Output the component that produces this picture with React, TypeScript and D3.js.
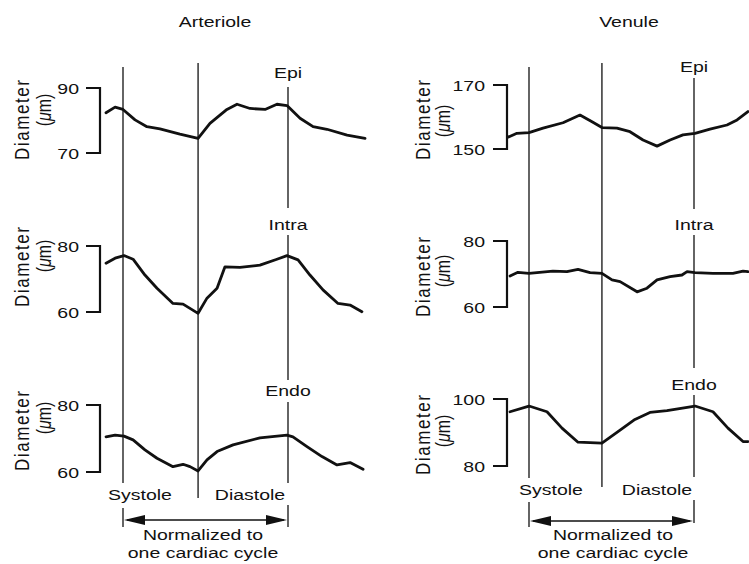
import React from 'react';
import * as d3 from 'd3';

// ---- Data (time normalized to one cardiac cycle: 0 = start of systole, 1 = end of diastole) ----
const ART_EPI_T = [-0.103, -0.048, 0, 0.073, 0.145, 0.224, 0.345, 0.455, 0.527, 0.63, 0.691, 0.77, 0.861, 0.933, 0.994, 1.073, 1.152, 1.236, 1.358, 1.467];
const ART_EPI_D = [82.4, 84.1, 83.4, 80.2, 78.1, 77.4, 75.8, 74.5, 79.1, 83.4, 85.0, 83.7, 83.4, 85.0, 84.6, 80.7, 78.1, 77.3, 75.5, 74.5];

const ART_INTRA_T = [-0.103, -0.048, 0.006, 0.061, 0.133, 0.206, 0.303, 0.364, 0.455, 0.509, 0.57, 0.618, 0.709, 0.83, 0.933, 0.994, 1.061, 1.133, 1.212, 1.303, 1.376, 1.448];
const ART_INTRA_D = [74.8, 76.3, 77.1, 76.0, 71.2, 67.2, 62.6, 62.4, 59.6, 64.2, 67.2, 73.7, 73.5, 74.2, 76.0, 77.1, 75.8, 71.2, 66.7, 62.6, 62.1, 60.1];

const ART_ENDO_T = [-0.103, -0.048, 0.006, 0.061, 0.133, 0.206, 0.303, 0.364, 0.406, 0.455, 0.509, 0.57, 0.667, 0.83, 0.994, 1.03, 1.115, 1.206, 1.297, 1.376, 1.455];
const ART_ENDO_D = [70.5, 71.0, 70.7, 69.6, 66.6, 64.1, 61.6, 62.3, 61.6, 60.3, 63.6, 66.1, 68.1, 70.2, 71.0, 70.5, 67.6, 64.6, 62.1, 62.8, 60.8];

const VEN_EPI_T = [-0.127, -0.073, 0, 0.085, 0.206, 0.309, 0.382, 0.442, 0.533, 0.612, 0.691, 0.776, 0.855, 0.933, 1.006, 1.097, 1.2, 1.261, 1.327];
const VEN_EPI_D = [153.7, 154.9, 155.1, 156.5, 158.2, 160.6, 158.5, 156.7, 156.5, 155.4, 152.8, 150.9, 152.8, 154.4, 154.9, 156.2, 157.5, 159.1, 161.7];

const VEN_INTRA_T = [-0.115, -0.067, 0, 0.145, 0.23, 0.297, 0.37, 0.442, 0.503, 0.552, 0.655, 0.715, 0.776, 0.855, 0.927, 0.958, 1.006, 1.115, 1.236, 1.297, 1.327];
const VEN_INTRA_D = [69.4, 70.5, 70.2, 70.9, 70.7, 71.4, 70.4, 70.2, 68.2, 67.7, 64.6, 65.7, 68.2, 69.2, 69.7, 70.7, 70.4, 70.2, 70.2, 70.9, 70.7];

const VEN_ENDO_T = [-0.115, 0, 0.109, 0.2, 0.297, 0.442, 0.552, 0.642, 0.733, 0.836, 1.006, 1.115, 1.206, 1.297, 1.327];
const VEN_ENDO_D = [96.2, 97.9, 96.2, 91.3, 87.1, 86.8, 90.7, 93.9, 96.0, 96.5, 97.9, 96.2, 91.3, 87.3, 87.3];

const ART_TICKS_EPI = [70, 90];
const ART_TICKS_INTRA = [60, 80];
const ART_TICKS_ENDO = [60, 80];
const VEN_TICKS_EPI = [150, 170];
const VEN_TICKS_INTRA = [60, 80];
const VEN_TICKS_ENDO = [80, 100];

const ROW_LABELS = ['Epi', 'Intra', 'Endo'];
const PANEL_TITLES = ['Arteriole', 'Venule'];
const PHASE_LABELS = ['Systole', 'Diastole'];
const ART_MID_T = 0.455;
const VEN_MID_T = 0.442;

// ---- Layout ----
const SX = 1.3; // horizontal stretch of the reference lettering
const FS = 15;
const FONT = '"Liberation Sans", Arial, Helvetica, sans-serif';

const panels = [
  {
    title: PANEL_TITLES[0], titleX: 215,
    xRange: [123, 288], midT: ART_MID_T,
    bracketX: 100, tickX: 86, tickLabelX: 79, diamX: 22, muX: 44,
    rows: [
      { t: ART_EPI_T, d: ART_EPI_D, ticks: ART_TICKS_EPI, yTop: 88, yBot: 153, labelY: 78, diamY: 120, muY: 110 },
      { t: ART_INTRA_T, d: ART_INTRA_D, ticks: ART_TICKS_INTRA, yTop: 246, yBot: 312, labelY: 230, diamY: 267, muY: 256 },
      { t: ART_ENDO_T, d: ART_ENDO_D, ticks: ART_TICKS_ENDO, yTop: 405, yBot: 472, labelY: 396, diamY: 431, muY: 418 },
    ],
    segs: [
      [[67, 483], [508, 527]],
      [[63, 498]],
      [[87, 208], [235, 380], [402, 483], [505, 527]],
    ],
    phaseY: 500, phaseX: [140, 250],
    arrowY: 520, normX: 203, normY: [540, 558],
  },
  {
    title: PANEL_TITLES[1], titleX: 629,
    xRange: [529, 694], midT: VEN_MID_T,
    bracketX: 507, tickX: 493, tickLabelX: 485, diamX: 423, muX: 443,
    rows: [
      { t: VEN_EPI_T, d: VEN_EPI_D, ticks: VEN_TICKS_EPI, yTop: 85, yBot: 149, labelY: 72, diamY: 120, muY: 121 },
      { t: VEN_INTRA_T, d: VEN_INTRA_D, ticks: VEN_TICKS_INTRA, yTop: 241, yBot: 307, labelY: 230, diamY: 277, muY: 271 },
      { t: VEN_ENDO_T, d: VEN_ENDO_D, ticks: VEN_TICKS_ENDO, yTop: 399, yBot: 466, labelY: 390, diamY: 435, muY: 431 },
    ],
    segs: [
      [[67, 478], [502, 527]],
      [[63, 487]],
      [[78, 209], [235, 368], [395, 477], [500, 523]],
    ],
    phaseY: 495, phaseX: [551, 657],
    arrowY: 521, normX: 613, normY: [540, 558],
  },
];

function HText({ x, y, children, anchor = 'middle', size = FS }: any) {
  return (
    <text transform={`translate(${x},${y}) scale(${SX},1)`} textAnchor={anchor}
      fontSize={size} fontFamily={FONT} fill="#111">{children}</text>
  );
}

function VText({ x, y, children, size = 17, len }: any) {
  return (
    <text transform={`translate(${x},${y}) scale(1.22,1) rotate(-90)`} textAnchor="middle"
      dominantBaseline="central" fontSize={size} fontFamily={FONT} fill="#111"
      textLength={len} lengthAdjust={len ? 'spacing' : undefined}>{children}</text>
  );
}

export default function App() {
  return (
    <svg width={749} height={564} style={{ position: 'absolute', left: 0, top: 0, background: '#fff' }}>
      <rect width={749} height={564} fill="#fff" />
      {panels.map((p, pi) => {
        const x = d3.scaleLinear().domain([0, 1]).range(p.xRange);
        const vx = [x(0), x(p.midT), x(1)];
        const x0 = x(0), x1 = x(1);
        return (
          <g key={pi}>
            <HText x={p.titleX} y={27}>{p.title}</HText>
            {/* vertical marker lines */}
            {p.segs.map((ss, li) => ss.map((s, si) => (
              <line key={`${li}-${si}`} x1={vx[li]} x2={vx[li]} y1={s[0]} y2={s[1]} stroke="#111" strokeWidth={1.3} />
            )))}
            {p.rows.map((r, ri) => {
              const y = d3.scaleLinear().domain(r.ticks).range([r.yBot, r.yTop]);
              const pts = r.t.map((t, i) => [t, r.d[i]] as [number, number]);
              const line = d3.line<[number, number]>().x(d => x(d[0])).y(d => y(d[1]));
              return (
                <g key={ri}>
                  <path d={line(pts) || ''} fill="none" stroke="#111" strokeWidth={2.8} strokeLinejoin="round" strokeLinecap="round" />
                  <path d={`M${p.tickX},${y(r.ticks[1])}H${p.bracketX}V${y(r.ticks[0])}H${p.tickX}`}
                    fill="none" stroke="#111" strokeWidth={2.2} />
                  {r.ticks.map(v => (
                    <HText key={v} x={p.tickLabelX} y={y(v) + 5.5} anchor="end">{v}</HText>
                  ))}
                  <HText x={vx[2]} y={r.labelY}>{ROW_LABELS[ri]}</HText>
                  <VText x={p.diamX} y={r.diamY} size={17} len={80}>Diameter</VText>
                  <VText x={p.muX} y={r.muY} size={16}>(<tspan fontStyle="italic">μ</tspan>m)</VText>
                </g>
              );
            })}
            <HText x={p.phaseX[0]} y={p.phaseY}>{PHASE_LABELS[0]}</HText>
            <HText x={p.phaseX[1]} y={p.phaseY}>{PHASE_LABELS[1]}</HText>
            {/* arrow */}
            <line x1={x0 + 4} x2={x1 - 4} y1={p.arrowY} y2={p.arrowY} stroke="#111" strokeWidth={1.6} />
            <path d={`M${x0 + 1},${p.arrowY}L${x0 + 22},${p.arrowY - 5}L${x0 + 22},${p.arrowY + 5}Z`} fill="#111" />
            <path d={`M${x1 - 1},${p.arrowY}L${x1 - 22},${p.arrowY - 5}L${x1 - 22},${p.arrowY + 5}Z`} fill="#111" />
            <HText x={p.normX} y={p.normY[0]}>Normalized to</HText>
            <HText x={p.normX} y={p.normY[1]}>one cardiac cycle</HText>
          </g>
        );
      })}
    </svg>
  );
}
